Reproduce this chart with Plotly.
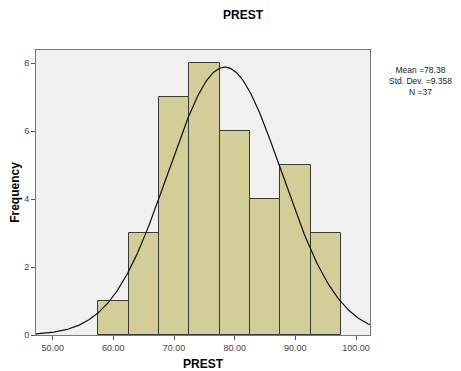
import numpy as np
import plotly.graph_objects as go

bin_starts = [57.5, 62.5, 67.5, 72.5, 77.5, 82.5, 87.5, 92.5]
counts = [1, 3, 7, 8, 6, 4, 5, 3]
bin_width = 5.0
mean_val = 78.38
std_val = 9.358
n_val = 37
x_ticks = [50, 60, 70, 80, 90, 100]
x_tick_labels = ["50.00", "60.00", "70.00", "80.00", "90.00", "100.00"]
y_ticks = [0, 2, 4, 6, 8]

centers = [s + bin_width / 2 for s in bin_starts]

xs = np.linspace(47.25, 102.3, 300)
ys = n_val * bin_width / (std_val * np.sqrt(2 * np.pi)) * np.exp(-0.5 * ((xs - mean_val) / std_val) ** 2)

fig = go.Figure()
fig.add_trace(go.Bar(
    x=centers, y=counts, width=[bin_width] * len(counts),
    marker=dict(color="#D3CE98", line=dict(color="#3a3a3a", width=1)),
    hoverinfo="skip",
))
fig.add_trace(go.Scatter(
    x=xs, y=ys, mode="lines", line=dict(color="#111111", width=1.2), hoverinfo="skip",
))

font = "Liberation Sans, Arial, sans-serif"
fig.update_layout(
    width=453, height=363,
    margin=dict(l=28, r=91, t=42, b=36, autoexpand=False),
    paper_bgcolor="white", plot_bgcolor="#F0F0F0",
    showlegend=False, bargap=0,
    font=dict(family=font, size=9, color="#333333"),
    title=dict(text="<b>PREST</b>", x=0.519, xanchor="center", y=0.981, yanchor="middle",
               font=dict(family=font, size=12, color="black")),
    xaxis=dict(range=[47.25, 102.3], tickvals=x_ticks, ticktext=x_tick_labels, automargin=False,
               ticks="outside", ticklen=4, tickcolor="#555555", showgrid=False, zeroline=False,
               showline=True, linecolor="#777777", linewidth=1, mirror=True,
               tickfont=dict(size=9, color="#444444"),
               title=dict(text="<b>PREST</b>", font=dict(size=12, color="black"), standoff=8)),
    yaxis=dict(range=[0, 8.39], tickvals=y_ticks, automargin=False,
               ticks="outside", ticklen=4, tickcolor="#555555", showgrid=False, zeroline=False,
               showline=True, linecolor="#777777", linewidth=1, mirror=True,
               tickfont=dict(size=9, color="#444444"),
               title=dict(text="<b>Frequency</b>", font=dict(size=12, color="black"), standoff=6)),
)

fig.add_annotation(
    xref="paper", yref="paper", x=1.15, y=0.955, xanchor="center", yanchor="top",
    text=f"Mean ={mean_val}<br>Std. Dev. ={std_val}<br>N ={n_val}",
    showarrow=False, align="center",
    font=dict(family=font, size=8.5, color="#222222"),
)

fig.write_html("out.html")
